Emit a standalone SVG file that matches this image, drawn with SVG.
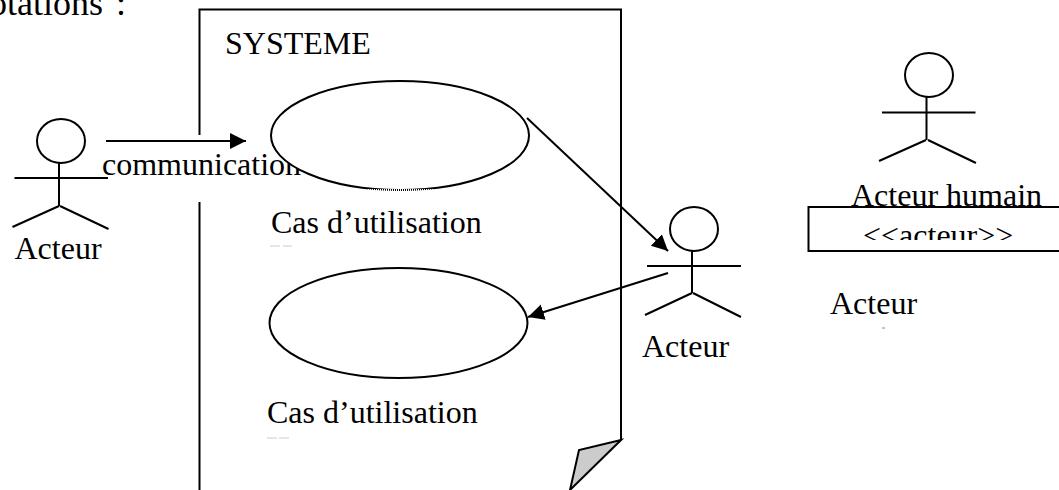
<svg xmlns="http://www.w3.org/2000/svg" width="1059" height="490" viewBox="0 0 1059 490">
<style>
text{font-family:"Liberation Serif","Times New Roman",serif;font-size:32px;fill:#000}
.l{fill:none;stroke:#000;stroke-width:2}
.e{fill:#fff;stroke:#000;stroke-width:2}
</style>
<defs>
<marker id="a" markerUnits="userSpaceOnUse" markerWidth="18" markerHeight="18" refX="16" refY="8" orient="auto"><path d="M0 0L16 8L0 16Z" fill="#000"/></marker>
<clipPath id="c"><rect x="800" y="208" width="259" height="32"/></clipPath>
</defs>
<rect width="1059" height="490" fill="#fff"/>
<text x="-11" y="15" word-spacing="4" style="font-size:36px">otations :</text>
<g id="systeme">
<path class="l" d="M199.500 135V9.500H621V440M199.500 202V490"/>
<path d="M621 440L579 450L570 490Z" fill="#ccc" stroke="#000" stroke-width="2"/>
<text x="225" y="54">SYSTEME</text>
</g>
<g id="acteur1">
<ellipse class="l" cx="61" cy="141" rx="24" ry="22"/>
<path class="l" d="M59 163V206M14.500 178H108M59 206L12.500 227M60 206L108.500 229"/>
<text x="14.500" y="259">Acteur</text>
</g>
<g id="usecase1">
<text x="102" y="175">communication</text>
<ellipse class="e" cx="400" cy="135.500" rx="129" ry="54.500"/>
<path d="M368 190H433" stroke="#fff" stroke-width="2" stroke-dasharray="1 1"/>
<text x="271" y="233">Cas d’utilisation</text>
<path d="M270 246H280M283 246H292" stroke="#ccc"/>
</g>
<g id="usecase2">
<ellipse class="e" cx="398.500" cy="323" rx="129" ry="55"/>
<text x="267" y="423">Cas d’utilisation</text>
<path d="M267 438H277M279 438H289" stroke="#ccc"/>
</g>
<g id="acteur2">
<ellipse class="l" cx="694" cy="229" rx="24" ry="22"/>
<path class="l" d="M692 251V293M647 266H741M692 293L645 315M693 293L741 317"/>
<text x="642" y="357">Acteur</text>
</g>
<g id="acteur3">
<ellipse class="l" cx="929" cy="75" rx="24" ry="22"/>
<path class="l" d="M926.500 97V140M882 112.500H975.500M926 140L879 161M928 140L976 163"/>
<text x="851" y="206">Acteur humain</text>
</g>
<g id="stereotype">
<path class="l" d="M1059 207H808.500V251H1059"/>
<text x="863" y="246" clip-path="url(#c)">&lt;&lt;acteur&gt;&gt;</text>
</g>
<g id="acteur4">
<text x="830" y="314">Acteur</text>
<path d="M882 328H885" stroke="#888"/>
</g>
<g id="connectors">
<path class="l" d="M106 141H246" marker-end="url(#a)"/>
<path class="l" d="M527 118L668 251" marker-end="url(#a)"/>
<path class="l" d="M668 273L528 317" marker-end="url(#a)"/>
</g>
</svg>
